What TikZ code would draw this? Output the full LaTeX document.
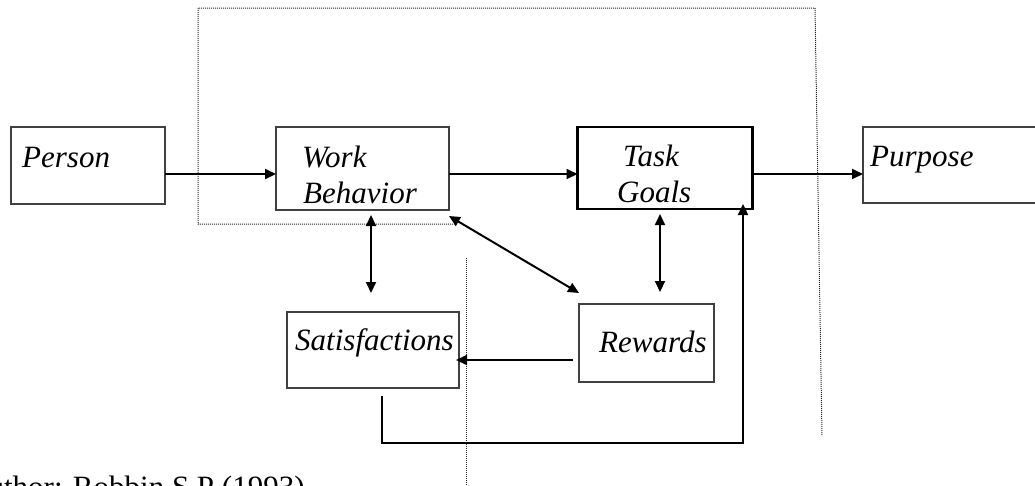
\documentclass[tikz,border=0pt]{standalone}
\usepackage{fontspec}
\setmainfont{Liberation Serif}
\usetikzlibrary{arrows.meta,calc}
\begin{document}
\begin{tikzpicture}[x=1pt,y=-1pt,
  box/.style={draw=black!75,line width=1.3pt,rectangle,inner sep=0pt,outer sep=0pt},
  thickbox/.style={draw=black,line width=2.6pt,rectangle,inner sep=0pt,outer sep=0pt},
  lbl/.style={anchor=base west,inner sep=0pt,font=\fontsize{31}{36}\selectfont\itshape},
  arr/.style={line width=2pt,-{Triangle[length=11pt,width=10pt]}},
  darr/.style={line width=2pt,{Triangle[length=11pt,width=10pt]}-{Triangle[length=11pt,width=10pt]}},
  frame/.style={draw=black!85,line width=1pt,dash pattern=on 1pt off 1pt}]
\useasboundingbox (0,0) rectangle (1035,485);
\clip (0,0) rectangle (1035,485);
% dotted frame
\draw[frame] (455,224) -- (198,224) -- (198,8) -- (815,8) -- (822,436);
\draw[frame] (466,258) -- (466,490);
% boxes
\node[box,minimum width=154pt,minimum height=77pt] (person) at (88,165.5) {};
\node[box,minimum width=173pt,minimum height=83pt] (work) at (362.5,168.5) {};
\node[thickbox,minimum width=175pt,minimum height=82pt] (task) at (665,168) {};
\node[box,minimum width=180pt,minimum height=76pt] (purpose) at (953,165) {};
\node[box,minimum width=172pt,minimum height=76pt] (sat) at (373,350) {};
\node[box,minimum width=135pt,minimum height=78pt] (rewards) at (646.5,343) {};
% labels
\node[lbl] (personT) at (22,167) {Person};
\node[lbl] (workT1) at (302,167) {Work};
\node[lbl] (workT2) at (303,203) {Behavior};
\node[lbl] (taskT1) at (623,166) {Task};
\node[lbl] (taskT2) at (617,202) {Goals};
\node[lbl] (purposeT) at (870,166) {Purpose};
\node[lbl] (satT) at (295,350) {Satisfactions};
\node[lbl] (rewT) at (599,352) {Rewards};
\node[anchor=base west,inner sep=0pt,font=\fontsize{31}{36}\selectfont] (src) at (-34,497) {Author: Robbin S.P (1993)};
% helper coordinates
\coordinate (r1) at (0,174);
\coordinate (r2) at (0,360);
\coordinate (c1) at (371,0);
\coordinate (c2) at (660,0);
\coordinate (c3) at (382,0);
\coordinate (c4) at (0,443);
\coordinate (c5) at (743,0);
% connectors
\draw[arr] (person.east |- r1) -- (work.west |- r1);
\draw[arr] (work.east |- r1) -- (task.west |- r1);
\draw[arr] (task.east |- r1) -- (purpose.west |- r1);
\draw[darr,shorten <=5pt,shorten >=19pt] (work.south -| c1) -- (sat.north -| c1);
\draw[darr] ([yshift=-6pt]work.south east) -- ([yshift=11pt]rewards.north west);
\draw[darr,shorten <=5pt,shorten >=12pt] (task.south -| c2) -- (rewards.north -| c2);
\draw[arr,shorten <=6pt,shorten >=-3pt] (rewards.west |- r2) -- (sat.east |- r2);
\draw[arr,line width=2.3pt] ([yshift=-8pt]sat.south -| c3) -- (c3 |- c4) -- (c5 |- c4) -- ([yshift=5pt]task.south -| c5);
\end{tikzpicture}
\end{document}
